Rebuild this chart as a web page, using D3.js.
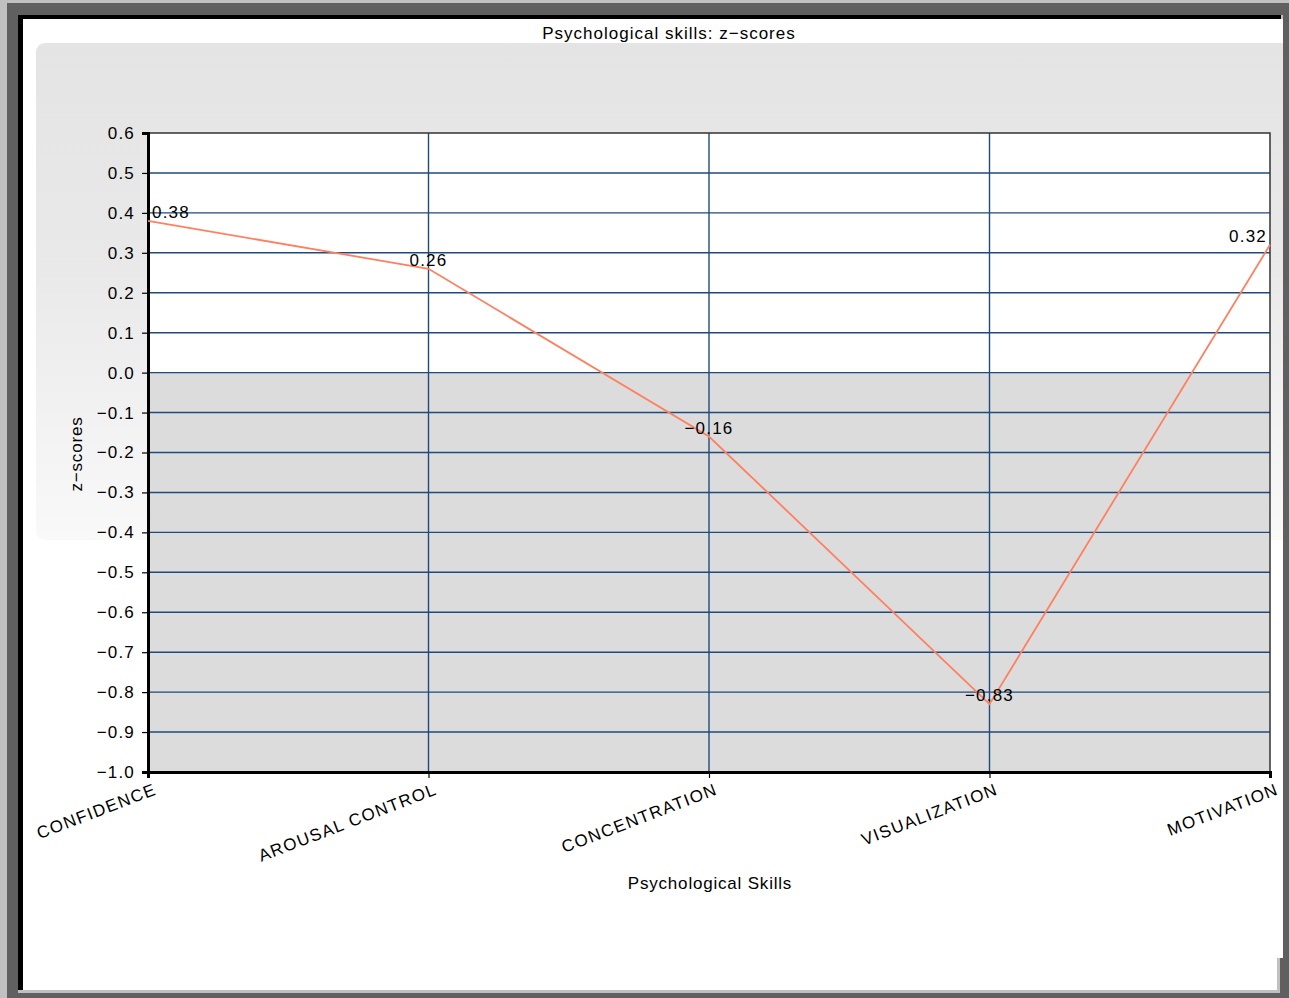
<!DOCTYPE html>
<html>
<head>
<meta charset="utf-8">
<script src="https://cdn.jsdelivr.net/npm/d3@7"></script>
<style>
  html, body { margin: 0; padding: 0; background: #c0c0c0; }
  svg { display: block; }
  text { font-family: "Liberation Sans", Arial, sans-serif; fill: #000; }
</style>
</head>
<body>
<script>
// Psychological skills profile (z-scores)
const categories = ["CONFIDENCE", "AROUSAL CONTROL", "CONCENTRATION", "VISUALIZATION", "MOTIVATION"];
const zScores = [0.38, 0.26, -0.16, -0.83, 0.32];
const yTicks = [0.6, 0.5, 0.4, 0.3, 0.2, 0.1, 0.0, -0.1, -0.2, -0.3, -0.4, -0.5, -0.6, -0.7, -0.8, -0.9, -1.0];
const yDomain = [-1.0, 0.6];
const titleText = "Psychological skills: z\u2212scores";
const xTitle = "Psychological Skills";
const yTitle = "z\u2212scores";

const W = 1289, H = 998;
const plot = { left: 148, right: 1270, top: 133, bottom: 772 };
const FONT = 17, LS = "1.2px";

const svg = d3.select("body").append("svg").attr("width", W).attr("height", H);
const defs = svg.append("defs");

// Window frame
svg.append("rect").attr("x", 0).attr("y", 0).attr("width", W).attr("height", H).attr("fill", "#c0c0c0");
svg.append("rect").attr("x", 7).attr("y", 3).attr("width", W - 7).attr("height", H - 3).attr("fill", "#606060");
svg.append("rect").attr("x", 18).attr("y", 15).attr("width", 1265).attr("height", 978).attr("fill", "#c0c0c0");
svg.append("rect").attr("x", 18).attr("y", 15).attr("width", 1263).attr("height", 975).attr("fill", "#000");
svg.append("rect").attr("x", 23).attr("y", 19).attr("width", 1260).attr("height", 971).attr("fill", "#fff");
svg.append("rect").attr("x", 1277).attr("y", 958).attr("width", 6).attr("height", 35).attr("fill", "#c0c0c0");
svg.append("rect").attr("x", 1280).attr("y", 958).attr("width", 3).attr("height", 35).attr("fill", "#606060");

// Chart area clip
defs.append("clipPath").attr("id", "chartClip")
  .append("rect").attr("x", 36).attr("y", 19).attr("width", 1247).attr("height", 971);

const chart = svg.append("g").attr("clip-path", "url(#chartClip)");

// Soft panel behind the plot
const grad = defs.append("linearGradient").attr("id", "panelGrad")
  .attr("x1", 0).attr("y1", 0).attr("x2", 0).attr("y2", 1);
grad.append("stop").attr("offset", "0%").attr("stop-color", "#e4e4e4");
grad.append("stop").attr("offset", "45%").attr("stop-color", "#e9e9e9");
grad.append("stop").attr("offset", "100%").attr("stop-color", "#f9f9f9");
chart.append("rect").attr("x", 36).attr("y", 43).attr("width", 1270).attr("height", 497)
  .attr("rx", 9).attr("fill", "url(#panelGrad)");

// Scales
const x = d3.scalePoint().domain(categories).range([plot.left, plot.right]);
const y = d3.scaleLinear().domain(yDomain).range([plot.bottom, plot.top]);

// Plot background: white above zero, grey below
chart.append("rect").attr("x", plot.left).attr("y", y(0.6))
  .attr("width", plot.right - plot.left).attr("height", y(0) - y(0.6)).attr("fill", "#fff");
chart.append("rect").attr("x", plot.left).attr("y", y(0))
  .attr("width", plot.right - plot.left).attr("height", y(-1.0) - y(0)).attr("fill", "#dcdcdc");

// Grid
const gridColor = "#1f4a7c";
chart.append("g").selectAll("line").data(yTicks.filter(v => v !== 0.6 && v !== -1.0)).join("line")
  .attr("x1", plot.left).attr("x2", plot.right)
  .attr("y1", d => y(d)).attr("y2", d => y(d))
  .attr("stroke", gridColor).attr("stroke-width", 1.4);
chart.append("g").selectAll("line").data(categories.slice(1, -1)).join("line")
  .attr("x1", d => x(d)).attr("x2", d => x(d))
  .attr("y1", plot.top).attr("y2", plot.bottom)
  .attr("stroke", gridColor).attr("stroke-width", 1.4);

// Thin top/right border
chart.append("path")
  .attr("d", `M${plot.left},${plot.top}H${plot.right}V${plot.bottom}`)
  .attr("fill", "none").attr("stroke", "#333").attr("stroke-width", 1.5);

// Y axis
const yAxis = d3.axisLeft(y).tickValues(yTicks).tickFormat(d3.format(".1f")).tickSize(6).tickPadding(7);
const gy = chart.append("g").attr("transform", `translate(${plot.left},0)`).call(yAxis);
gy.select(".domain").attr("stroke", "#000").attr("stroke-width", 3);
gy.selectAll(".tick line").attr("stroke", "#000").attr("stroke-width", 1.2);
gy.selectAll(".tick text").attr("font-size", FONT).attr("letter-spacing", LS)
  .attr("font-family", "Liberation Sans, Arial, sans-serif").attr("fill", "#000");

// X axis
const xAxis = d3.axisBottom(x).tickSize(6).tickFormat("");
const gx = chart.append("g").attr("transform", `translate(0,${plot.bottom})`).call(xAxis);
gx.select(".domain").attr("stroke", "#000").attr("stroke-width", 3);
gx.selectAll(".tick line").attr("stroke", "#000").attr("stroke-width", 1.2);

chart.append("g").selectAll("text").data(categories).join("text")
  .attr("transform", d => `translate(${x(d) + 5},${plot.bottom + 10}) rotate(-21)`)
  .attr("text-anchor", "end").attr("dy", "0.75em")
  .attr("font-size", FONT).attr("letter-spacing", "1.4px")
  .text(d => d);

// Series line
const line = d3.line().x((d, i) => x(categories[i])).y(d => y(d));
chart.append("path").datum(zScores)
  .attr("d", line).attr("fill", "none")
  .attr("stroke", "#ff8060").attr("stroke-width", 1.8);

// Value labels
chart.append("g").selectAll("text").data(zScores).join("text")
  .attr("x", (d, i) => {
    const cx = x(categories[i]);
    if (i === 0) return cx + 4;
    if (i === zScores.length - 1) return cx - 3;
    return cx;
  })
  .attr("text-anchor", (d, i) => i === 0 ? "start" : (i === zScores.length - 1 ? "end" : "middle"))
  .attr("y", d => y(d) - 3)
  .attr("font-size", FONT).attr("letter-spacing", LS)
  .text(d => d3.format(".2f")(d));

// Titles
chart.append("text").attr("x", 669).attr("y", 39).attr("text-anchor", "middle")
  .attr("font-size", FONT).attr("letter-spacing", "1px").text(titleText);
chart.append("text").attr("x", 710).attr("y", 889).attr("text-anchor", "middle")
  .attr("font-size", FONT).attr("letter-spacing", "0.8px").text(xTitle);
chart.append("text").attr("transform", "translate(82,454) rotate(-90)").attr("text-anchor", "middle")
  .attr("font-size", FONT).attr("letter-spacing", "0.8px").text(yTitle);
</script>
</body>
</html>
